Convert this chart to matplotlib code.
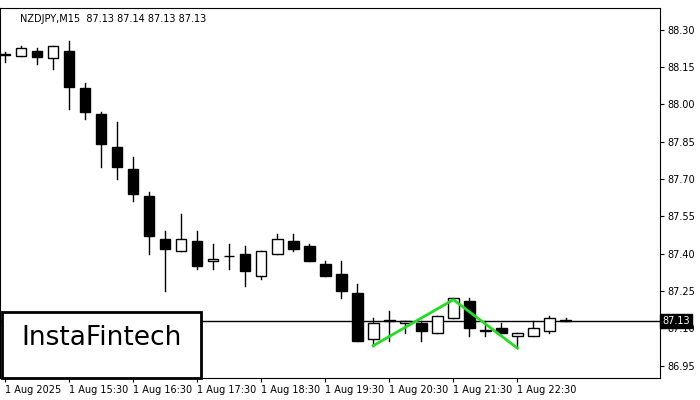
import matplotlib
matplotlib.use("Agg")
import matplotlib.pyplot as plt
from matplotlib.patches import Rectangle

opens  = [88.20,88.195,88.216,88.187,88.216,88.067,87.96,87.83,87.74,87.63,87.46,87.41,87.45,87.37,87.39,87.40,87.31,87.40,87.45,87.43,87.36,87.32,87.24,87.055,87.13,87.12,87.12,87.08,87.14,87.21,87.09,87.10,87.07,87.07,87.09,87.13]
highs  = [88.21,88.236,88.228,88.236,88.256,88.087,87.97,87.93,87.79,87.65,87.49,87.56,87.49,87.44,87.44,87.43,87.41,87.48,87.48,87.44,87.37,87.37,87.28,87.14,87.17,87.13,87.13,87.15,87.22,87.22,87.13,87.12,87.08,87.13,87.15,87.14]
lows   = [88.17,88.195,88.163,88.143,87.98,87.94,87.75,87.70,87.61,87.40,87.25,87.41,87.34,87.34,87.34,87.27,87.30,87.40,87.41,87.37,87.31,87.22,87.05,87.03,87.05,87.08,87.05,87.08,87.14,87.07,87.07,87.08,87.02,87.07,87.08,87.13]
closes = [88.20,88.228,88.192,88.236,88.07,87.97,87.84,87.75,87.64,87.47,87.42,87.46,87.35,87.38,87.39,87.33,87.41,87.46,87.42,87.37,87.31,87.25,87.05,87.12,87.13,87.13,87.09,87.15,87.22,87.10,87.09,87.08,87.08,87.10,87.14,87.13]
pattern_idx = [23, 28, 32]
pattern_val = [87.03, 87.215, 87.02]
yticks = [86.95,87.10,87.25,87.40,87.55,87.70,87.85,88.00,88.15,88.30]
xtick_idx = [0,4,8,12,16,20,24,28,32]
xtick_labels = ["1 Aug 2025","1 Aug 15:30","1 Aug 16:30","1 Aug 17:30","1 Aug 18:30","1 Aug 19:30","1 Aug 20:30","1 Aug 21:30","1 Aug 22:30"]
last = 87.13

fig = plt.figure(figsize=(7,4), dpi=100)
ax = fig.add_axes([0, 22/400, 660/700, 370/400])
for i,(o,h,l,c) in enumerate(zip(opens,highs,lows,closes)):
    ax.plot([i,i],[l,h],color='black',lw=1,zorder=2)
    b = min(o,c); hgt = max(abs(c-o), 0.002)
    ax.add_patch(Rectangle((i-0.33,b),0.66,hgt,facecolor='white' if c>=o else 'black',edgecolor='black',lw=1,zorder=3))
ax.axhline(last,color='black',lw=1,zorder=1)
ax.plot(pattern_idx,pattern_val,color='#22dd22',lw=2,zorder=4)
ax.set_xlim(-0.31,40.9)
ax.set_ylim(86.90,88.388)
ax.yaxis.tick_right()
ax.set_yticks(yticks)
ax.set_yticklabels([f"{v:.2f}" for v in yticks],fontsize=7)
ax.set_xticks(xtick_idx)
ax.set_xticklabels(xtick_labels,fontsize=7,ha='left')
ax.tick_params(length=3,pad=2)
for s in ax.spines.values(): s.set_linewidth(0.8)
ax.text(1.003,last,f"{last:.2f}",transform=ax.get_yaxis_transform(),fontsize=7,color='white',va='center',ha='left',
        bbox=dict(facecolor='black',edgecolor='black',pad=1.5),zorder=10,clip_on=False)
ax.text(0.03,0.985,"NZDJPY,M15  87.13 87.14 87.13 87.13",transform=ax.transAxes,fontsize=7,va='top',ha='left')
fig.patches.append(Rectangle((2/700,22/400),199/700,66/400,transform=fig.transFigure,facecolor='white',edgecolor='black',lw=2,zorder=20))
fig.text(102/700,40/400+22/400,"InstaFintech",fontsize=19,ha='center',va='center',zorder=21)
fig.savefig("out.png",dpi=100)
